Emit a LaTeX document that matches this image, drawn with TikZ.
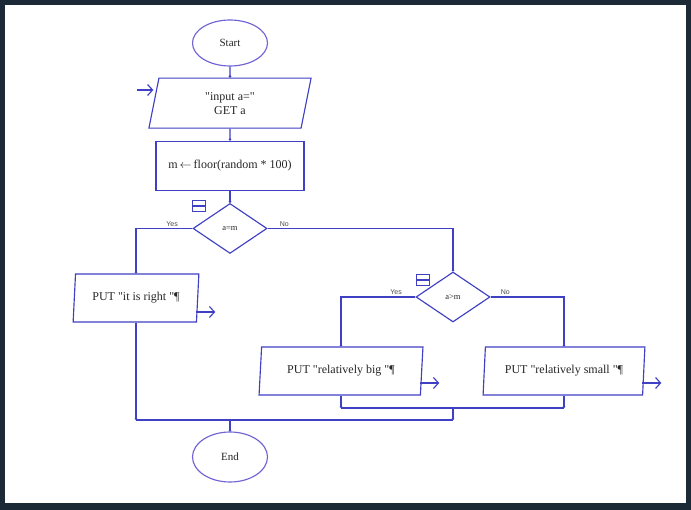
\documentclass[tikz,border=0pt]{standalone}
\usepackage{fontspec}
\setmainfont{Liberation Serif}[Ligatures=TeXOff]
\newfontfamily\labfont{Liberation Sans}
\usetikzlibrary{shapes.geometric,positioning,arrows.meta}
\definecolor{flowblue}{RGB}{64,64,196}
\definecolor{ovalblue}{RGB}{112,100,212}
\definecolor{framedark}{RGB}{28,42,56}

\begin{document}
\begin{tikzpicture}[x=1pt,y=-1pt,line width=1.15pt,
  font=\fontsize{12}{14}\selectfont,
  oval/.style={ellipse,draw=ovalblue,minimum width=75pt,minimum height=46pt,inner sep=0pt,
    text=black!85,font=\fontsize{11}{13}\selectfont},
  io/.style={trapezium,trapezium left angle=81,trapezium right angle=99,trapezium stretches=true,
    draw=flowblue,align=center,inner sep=0pt,minimum height=48pt,text=black!85},
  proc/.style={rectangle,draw=flowblue,minimum width=148pt,minimum height=49pt,text=black!85},
  test/.style={diamond,draw=flowblue,minimum width=74pt,minimum height=50pt,inner sep=0pt,
    font=\fontsize{8.5}{9}\selectfont,text=black!85},
  icon/.style={rectangle,draw=flowblue,minimum width=13pt,minimum height=11pt,inner sep=0pt},
  lbl/.style={font=\labfont\fontsize{7}{8}\selectfont,text=black!70,inner sep=1.5pt},
  flow/.style={draw=flowblue,-{Circle[length=2.4pt]}},
  outarrow/.style={draw=flowblue,-{Straight Barb[length=5pt,width=11pt]}}]
  \fill[framedark] (0,0) rectangle (691,510);
  \fill[white] (5,5) rectangle (686,503);

  \node (start) [oval] at (230,43) {Start};
  \node (input) [io,minimum width=163pt,minimum height=50pt,below=11pt of start] {"input a="\\GET a};
  \node (assign) [proc,below=12pt of input] {m\,$\leftarrow$\,floor(random * 100)};
  \node (eq) [test,below=12pt of assign] {a=m};
  \node (ic1) [icon] at (199,206) {};
  \node (isright) [io,minimum width=126pt] at (136,298) {PUT "it is right "¶};
  \node (gt) [test] at (453,297) {a>m};
  \node (ic2) [icon] at (423,280) {};
  \node (big) [io,minimum width=164pt] at (341,371) {PUT "relatively big "¶};
  \node (small) [io,minimum width=162pt] at (564,371) {PUT "relatively small "¶};
  \node (end) [oval,minimum height=50pt] at (230,457) {End};
  \coordinate (entry) at (137,90);
  \coordinate (join) at (453,408);
  \coordinate (merge) at (453,420);

  \draw[flowblue] (ic1.west) -- (ic1.east);
  \draw[flowblue] (ic2.west) -- (ic2.east);
  \draw[outarrow] (entry) -- (entry -| input.west);
  \draw[flow] (start) -- (input);
  \draw[flow] (input) -- (assign);
  \draw[flow] (assign) -- (eq);
  \draw[flow] (eq.west) -| node[lbl,above,pos=0.18] {Yes} (isright.north);
  \draw[flow] (eq.east) -| node[lbl,above,pos=0.045] {No} (gt.north);
  \draw[flow] (gt.west) -| node[lbl,above,pos=0.13] {Yes} (big.north);
  \draw[flow] (gt.east) -| node[lbl,above,pos=0.1] {No} (small.north);
  \draw[outarrow] ([xshift=-2pt,yshift=-14pt]isright.east) -- ++(19,0);
  \draw[outarrow] ([xshift=-2pt,yshift=-12pt]big.east) -- ++(19,0);
  \draw[outarrow] ([xshift=-2pt,yshift=-12pt]small.east) -- ++(19,0);
  \draw[flow] (big) -- (big |- join);
  \draw[flow] (small) -- (small |- join);
  \draw[flowblue] (big |- join) -- (small |- join);
  \draw[flow] (join) -- (merge);
  \draw[flow] (isright) -- (isright |- merge);
  \draw[flowblue] (isright |- merge) -- (merge);
  \draw[flow] (end |- merge) -- (end);
\end{tikzpicture}
\end{document}
